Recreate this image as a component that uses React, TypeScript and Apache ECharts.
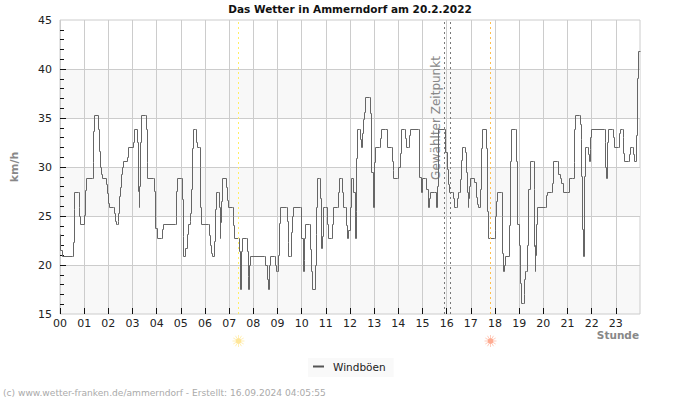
import React, { useEffect, useRef } from "react";
import * as echarts from "echarts";

const TITLE = "Das Wetter in Ammerndorf am 20.2.2022";
const SERIES_NAME = "Windböen";
const FOOTER = "(c) www.wetter-franken.de/ammerndorf - Erstellt: 16.09.2024 04:05:55";
const FONT = "'DejaVu Sans', sans-serif";

const SUNRISE = 7.386;
const SUNSET = 17.814;
const SELECTED_START = 15.91;
const SELECTED_END = 16.159;

const hours = [
  0, .04, .12, .51, .54, .58, .60, .76, .79, .81, .86, 1.01, 1.03, 1.06, 1.09, 1.34, 1.37, 1.39, 1.42, 1.58,
  1.61, 1.64, 1.68, 1.73, 1.75, 1.92, 1.94, 1.97, 2.00, 2.04, 2.22, 2.25, 2.29, 2.32, 2.37, 2.40, 2.44, 2.47, 2.51, 2.55,
  2.59, 2.64, 2.78, 2.81, 2.85, 3.03, 3.06, 3.10, 3.20, 3.21, 3.25, 3.28, 3.31, 3.33, 3.38, 3.55, 3.56, 3.60, 3.63, 3.86,
  3.89, 3.94, 4.03, 4.19, 4.23, 4.27, 4.77, 4.80, 4.84, 4.87, 5.02, 5.05, 5.09, 5.12, 5.18, 5.21, 5.27, 5.32, 5.38, 5.41,
  5.45, 5.49, 5.53, 5.60, 5.64, 5.68, 5.78, 5.80, 5.83, 5.86, 6.15, 6.19, 6.24, 6.28, 6.32, 6.38, 6.41, 6.44, 6.48, 6.55,
  6.58, 6.63, 6.66, 6.69, 6.73, 6.88, 6.91, 6.94, 6.98, 7.13, 7.16, 7.19, 7.23, 7.39, 7.42, 7.46, 7.50, 7.54, 7.71, 7.75,
  7.78, 7.79, 7.83, 7.89, 8.45, 8.51, 8.58, 8.62, 8.66, 8.72, 8.87, 8.91, 8.95, 9.02, 9.05, 9.09, 9.13, 9.36, 9.40, 9.45,
  9.47, 9.55, 9.59, 9.63, 9.67, 9.94, 10.00, 10.07, 10.10, 10.12, 10.17, 10.31, 10.35, 10.40, 10.43, 10.58, 10.59, 10.62, 10.63, 10.66,
  10.73, 10.76, 10.83, 10.87, 10.91, 10.99, 11.05, 11.09, 11.22, 11.26, 11.31, 11.47, 11.51, 11.57, 11.65, 11.68, 11.74, 11.80, 11.85, 11.89,
  11.93, 12.00, 12.05, 12.13, 12.16, 12.22, 12.25, 12.28, 12.32, 12.38, 12.44, 12.46, 12.51, 12.56, 12.61, 12.65, 12.80, 12.83, 12.90, 12.98,
  13.00, 13.06, 13.21, 13.25, 13.31, 13.46, 13.54, 13.71, 13.75, 13.79, 13.82, 13.97, 14.01, 14.07, 14.15, 14.24, 14.30, 14.34, 14.41, 14.47,
  14.51, 14.82, 14.89, 14.94, 14.98, 15.14, 15.18, 15.24, 15.28, 15.32, 15.50, 15.57, 15.61, 15.67, 15.90, 15.94, 15.97, 16.02, 16.06, 16.11,
  16.24, 16.28, 16.33, 16.41, 16.45, 16.50, 16.55, 16.58, 16.62, 16.66, 16.73, 16.77, 16.84, 16.87, 16.89, 16.92, 16.95, 16.99, 17.14, 17.17,
  17.24, 17.29, 17.32, 17.39, 17.42, 17.45, 17.49, 17.64, 17.66, 17.69, 17.74, 17.97, 18.00, 18.04, 18.07, 18.11, 18.26, 18.29, 18.33, 18.36,
  18.40, 18.44, 18.59, 18.62, 18.66, 18.69, 18.84, 18.88, 18.95, 19.02, 19.06, 19.10, 19.17, 19.20, 19.24, 19.28, 19.32, 19.36, 19.40, 19.45,
  19.60, 19.62, 19.65, 19.66, 19.69, 19.71, 19.73, 19.76, 20.09, 20.14, 20.18, 20.34, 20.37, 20.43, 20.58, 20.63, 20.69, 20.77, 20.82, 20.99,
  21.07, 21.22, 21.27, 21.29, 21.34, 21.49, 21.53, 21.56, 21.59, 21.63, 21.65, 21.69, 21.73, 21.82, 21.87, 21.92, 21.94, 21.96, 22.00, 22.54,
  22.56, 22.59, 22.60, 22.66, 22.69, 22.85, 22.91, 22.95, 23.10, 23.14, 23.18, 23.26, 23.31, 23.33, 23.37, 23.51, 23.56, 23.61, 23.68, 23.72,
  23.78, 23.84, 23.87, 23.91, 23.94, 24,
];

const gusts = [
  23.1, 21.5, 20.9, 20.9, 22.3, 25.7, 27.4, 27.4, 25.9, 25, 24.1, 24.1, 25.1, 27.6, 28.8, 28.8, 30.5, 33.6, 35.3, 35.3,
  33.8, 31.6, 30, 29.2, 28.8, 28.8, 28.2, 27.3, 26.3, 25.9, 25.9, 25.3, 24.4, 24.1, 24.1, 24.4, 25.3, 27, 27.9, 29.2,
  30, 30.6, 30.6, 31, 32, 32, 32.5, 33.8, 33.8, 32.5, 27.5, 25.9, 28, 32.5, 35.3, 35.3, 33.8, 30.5, 28.8, 28.8,
  27.5, 23.7, 22.7, 22.7, 23.6, 24.1, 24.1, 25, 27.5, 28.8, 28.8, 26.7, 22.9, 20.9, 20.9, 21.7, 23.1, 24.1, 24.4, 25.3,
  27.7, 31.9, 33.8, 33.8, 32.5, 32, 32, 29.9, 25.9, 24.1, 24.1, 23, 22, 21.2, 20.9, 20.9, 22.4, 25.7, 27.4, 27.4,
  25.9, 22.7, 24.3, 26.5, 28.8, 28.8, 27.9, 26.6, 25.9, 25.9, 25, 24, 22.7, 22.7, 21.4, 17.5, 21.4, 22.7, 22.7, 21.4,
  18.8, 17.5, 20, 20.9, 20.9, 20, 18.5, 17.5, 20, 20.9, 20.9, 20, 19.3, 19.3, 21, 24.2, 25.9, 25.9, 24.4, 22.3,
  20.9, 20.9, 23.3, 25, 25.9, 25.9, 22.7, 19.3, 20.5, 22.7, 24.1, 24.1, 21.6, 19.3, 17.5, 17.5, 20, 23.1, 25.9, 28.8,
  28.8, 26.8, 21.7, 22.9, 25.9, 25.9, 24.1, 22.7, 22.7, 24.1, 25.9, 25.9, 27.4, 28.8, 28.8, 27.4, 25.9, 25.9, 24, 22.7,
  23.5, 25.9, 28.8, 28.8, 27.4, 22.7, 25.5, 30.9, 33.8, 33.8, 32.8, 32, 33.4, 34.8, 35.6, 37.1, 37.1, 35.5, 29.4, 25.9,
  30.5, 32, 32, 32.9, 33.8, 33.8, 32, 32, 30.6, 29.6, 28.8, 28.8, 30, 31.4, 33.8, 33.8, 32.9, 32, 32, 33.2,
  33.8, 33.8, 28.9, 27.4, 28.8, 28.8, 27.7, 25.9, 26.8, 27.4, 27.4, 25.9, 28, 33.8, 33.8, 32.9, 31.5, 29.7, 28.2, 27.4,
  27.4, 26.8, 25.9, 25.9, 26.8, 27.4, 27.4, 28.7, 30.7, 32, 32, 31.5, 29.4, 27.4, 25.9, 26.8, 28, 28.8, 28.8, 28.4,
  26.9, 26.2, 25.9, 25.9, 27.7, 31.9, 33.8, 33.8, 31.9, 25.5, 22.7, 22.7, 23.5, 25, 26.5, 27.4, 27.4, 25, 21.2, 19.3,
  20, 20.9, 20.9, 24, 30.6, 33.8, 33.8, 30.6, 24.1, 22, 18.1, 16.1, 16.1, 17, 18.5, 19.3, 19.3, 22, 27.7, 30.6,
  30.6, 27.7, 21.9, 19.3, 22, 21, 24.1, 25.9, 25.9, 27.1, 27.4, 27.4, 28.3, 30.6, 30.6, 29.2, 28.8, 28.3, 27.4, 27.4,
  28.8, 28.8, 30.5, 33.8, 35.3, 35.3, 34.3, 32.8, 29, 23.6, 20.9, 29, 32, 32, 31.3, 30.6, 31.8, 33, 33.8, 33.8,
  32.5, 30, 28.8, 32.5, 33.8, 33.8, 33, 32, 32, 33.4, 33.8, 33.8, 33, 31.4, 30.6, 30.6, 31.3, 32, 32, 31.3,
  30.6, 30.6, 33.2, 39, 41.8, 41.8,
];

const xTicks = Array.from({ length: 24 }, (_, h) => h);
const yMajorTicks = [20, 25, 30, 35, 40];

// The line is stepped, so a point is rounded to the middle of its screen pixel to stay one pixel wide.
const PX_PER_HOUR = 580 / 24;
const PX_PER_KMH = 294 / 30;
const crispHour = (h: number) => (Math.floor(h * PX_PER_HOUR) + 0.5) / PX_PER_HOUR;
const crispGust = (v: number) => 45 - (Math.floor((45 - v) * PX_PER_KMH) + 0.5) / PX_PER_KMH;

function sun(cx: number, cy: number, fill: string, ray: string) {
  const rays = Array.from({ length: 12 }, (_, i) => {
    const a = (i * Math.PI) / 6;
    return {
      type: "line",
      silent: true,
      shape: {
        x1: cx + Math.cos(a) * 3,
        y1: cy + Math.sin(a) * 3,
        x2: cx + Math.cos(a) * 6,
        y2: cy + Math.sin(a) * 6,
      },
      style: { stroke: ray, lineWidth: 1 },
    };
  });
  return [
    ...rays,
    { type: "circle", silent: true, shape: { cx, cy, r: 3 }, style: { fill } },
  ];
}

export default function App() {
  const ref = useRef<HTMLDivElement>(null);
  useEffect(() => {
    const chart = echarts.init(ref.current!, undefined, { renderer: "svg", width: 700, height: 400 });
    const vLine = (x: number, color: string) => ({
      xAxis: x,
      lineStyle: { color, type: [2, 3], width: 1 },
    });
    chart.setOption({
      animation: false,
      backgroundColor: "#fff",
      textStyle: { fontFamily: FONT },
      title: {
        text: TITLE,
        left: 345,
        textAlign: "center",
        top: -2,
        textStyle: { fontFamily: FONT, fontSize: 10.5, fontWeight: "bold", color: "#111" },
      },
      legend: {
        left: 308,
        top: 358,
        padding: [3, 8, 5, 5],
        backgroundColor: "#f9f9f9",
        icon: "rect",
        itemWidth: 11,
        itemHeight: 2,
        itemGap: 0,
        textStyle: { fontFamily: FONT, fontSize: 10.5, color: "#222", padding: [0, 0, 0, 4] },
        data: [SERIES_NAME],
      },
      grid: { left: 60, right: 60, top: 20, bottom: 86, show: true, borderColor: "#ccc", borderWidth: 1, backgroundColor: "transparent" },
      xAxis: {
        type: "value",
        min: 0,
        max: 24,
        interval: 1,
        axisLine: { show: false },
        axisTick: { show: true, inside: true, length: 6, customValues: xTicks, lineStyle: { color: "#111" } },
        axisLabel: {
          color: "#222",
          fontSize: 11,
          margin: 4,
          customValues: xTicks,
          formatter: (v: number) => String(v).padStart(2, "0"),
        },
        splitLine: { show: true, lineStyle: { color: "#ccc", width: 1 } },
      },
      yAxis: {
        type: "value",
        min: 15,
        max: 45,
        interval: 5,
        axisLine: { show: false },
        axisTick: { show: true, inside: true, length: 6, customValues: yMajorTicks, lineStyle: { color: "#111" } },
        minorTick: { show: true, splitNumber: 5, length: 4, lineStyle: { color: "#111" } },
        axisLabel: { color: "#222", fontSize: 11, margin: 8 },
        splitLine: { show: true, lineStyle: { color: "#ccc", width: 1 } },
        splitArea: { show: true, areaStyle: { color: ["rgba(0,0,0,0)", "#f8f8f8"] } },
        name: "km/h",
        nameLocation: "middle",
        nameGap: 40,
        nameRotate: 90,
        nameTextStyle: { fontFamily: FONT, fontSize: 11, fontWeight: "bold", color: "#888" },
      },
      series: [
        {
          name: SERIES_NAME,
          type: "line",
          step: "end",
          showSymbol: false,
          symbol: "none",
          itemStyle: { color: "#555" },
          lineStyle: { color: "#666", width: 1 },
          data: hours.map((h, i) => [crispHour(h), crispGust(gusts[i])]),
          markLine: {
            silent: true,
            symbol: "none",
            label: { show: false },
            data: [
              vLine(SUNRISE, "#ffee66"),
              vLine(SUNSET, "#ffbe4d"),
              vLine(SELECTED_START, "#777"),
              vLine(SELECTED_END, "#777"),
            ],
          },
        },
      ],
    });
    const xPx = (v: number) => chart.convertToPixel({ xAxisIndex: 0 }, v) as number;
    const yPx = (v: number) => chart.convertToPixel({ yAxisIndex: 0 }, v) as number;
    chart.setOption({
      graphic: [
        {
          type: "rect",
          silent: true,
          z: -10,
          shape: { x: xPx(0), y: yPx(20), width: xPx(24) - xPx(0), height: yPx(15) - yPx(20) },
          style: { fill: "#f8f8f8" },
        },
        ...sun(xPx(SUNRISE), 341, "#ffe699", "#fff0b8"),
        ...sun(xPx(SUNSET), 341, "#ffab91", "#ffcdbd"),
        {
          type: "text",
          silent: true,
          x: xPx(SELECTED_START) - 8,
          y: 118,
          rotation: Math.PI / 2,
          style: {
            text: "Gewählter Zeitpunkt",
            fontFamily: FONT,
            fontSize: 12,
            fill: "#888",
            align: "center",
            verticalAlign: "middle",
          },
        },
        {
          type: "text",
          silent: true,
          x: 639,
          y: 329,
          style: { text: "Stunde", fontFamily: FONT, fontSize: 10.5, fontWeight: "bold", fill: "#888", align: "right" },
        },
        {
          type: "text",
          silent: true,
          x: 3,
          y: 388,
          style: { text: FOOTER, fontFamily: FONT, fontSize: 9.1, fill: "#aaa" },
        },
      ],
    });
    return () => chart.dispose();
  }, []);
  return <div ref={ref} style={{ position: "fixed", left: 0, top: 0, width: 700, height: 400 }} />;
}
